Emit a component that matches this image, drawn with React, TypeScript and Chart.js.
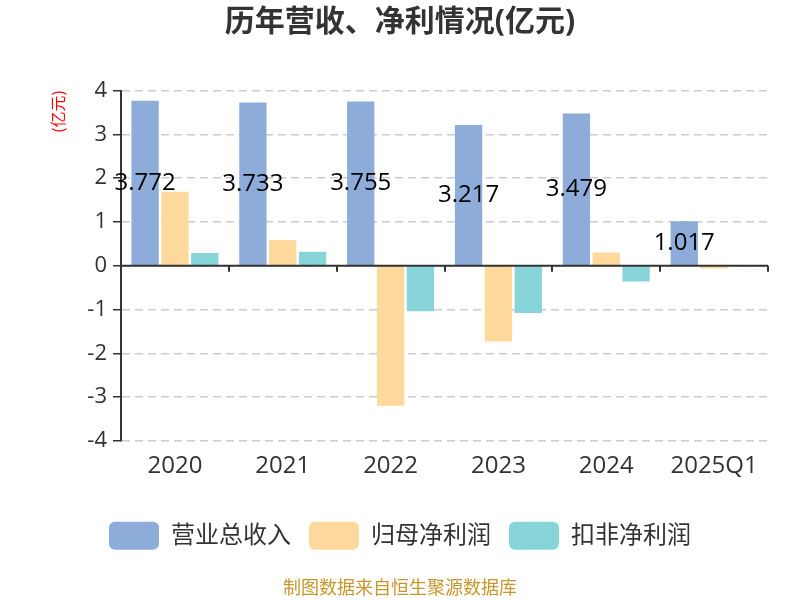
import React, { useEffect, useRef } from "react";
import { Chart, registerables } from "chart.js";

Chart.register(...registerables);

const categories = ["2020", "2021", "2022", "2023", "2024", "2025Q1"];
const revenue = [3.772, 3.733, 3.755, 3.217, 3.479, 1.017];
const netProfit = [1.69, 0.59, -3.2, -1.73, 0.3, -0.06];
const deductedProfit = [0.29, 0.32, -1.04, -1.08, -0.36, -0.01];
const seriesNames = ["营业总收入", "归母净利润", "扣非净利润"];
const yTicks = [-4, -3, -2, -1, 0, 1, 2, 3, 4];

const FONT = "'Open Sans','Noto Sans CJK SC',sans-serif";
const COLORS = ["#8eacd9", "#fed99b", "#87d5d8"];

const zeroAxisPlugin = {
  id: "zeroAxis",
  afterDatasetsDraw(chart: any) {
    const { ctx } = chart;
    const x = chart.scales.x;
    const y = chart.scales.y;
    const y0 = y.getPixelForValue(0);
    ctx.save();
    ctx.strokeStyle = "#333";
    ctx.lineWidth = 2;
    ctx.beginPath();
    ctx.moveTo(x.left, y0);
    ctx.lineTo(x.right, y0);
    const n = categories.length;
    for (let i = 0; i <= n; i++) {
      const px = Math.round(x.left + (i * (x.right - x.left)) / n);
      ctx.moveTo(px, y0);
      ctx.lineTo(px, y0 + 6);
    }
    ctx.stroke();
    ctx.restore();
  },
};

const labelPlugin = {
  id: "barLabels",
  afterDatasetsDraw(chart: any) {
    const { ctx } = chart;
    const meta = chart.getDatasetMeta(0);
    ctx.save();
    ctx.font = `24px ${FONT}`;
    ctx.fillStyle = "#000";
    ctx.textAlign = "center";
    ctx.textBaseline = "middle";
    meta.data.forEach((bar: any, i: number) => {
      const p = bar.getProps(["x", "y", "base"], true);
      ctx.fillText(revenue[i].toFixed(3), p.x, (p.y + p.base) / 2);
    });
    ctx.restore();
  },
};

export default function App() {
  const ref = useRef<HTMLCanvasElement>(null);
  useEffect(() => {
    if (!ref.current) return;
    const chart = new Chart(ref.current, {
      type: "bar",
      data: {
        labels: categories,
        datasets: [
          { label: seriesNames[0], data: revenue, backgroundColor: COLORS[0] },
          { label: seriesNames[1], data: netProfit, backgroundColor: COLORS[1] },
          { label: seriesNames[2], data: deductedProfit, backgroundColor: COLORS[2] },
        ].map((d) => ({ ...d, categoryPercentage: 0.83, barPercentage: 0.915, borderWidth: 0 })),
      },
      options: {
        animation: false,
        responsive: true,
        maintainAspectRatio: false,
        layout: { padding: 0 },
        scales: {
          x: {
            grid: { display: false, drawTicks: false },
            border: { display: false },
            ticks: { color: "#333", font: { size: 24, family: FONT }, padding: 11 },
            afterFit: (s: any) => {
              s.height = 63;
            },
          },
          y: {
            min: -4,
            max: 4,
            afterBuildTicks: (s: any) => {
              s.ticks = yTicks.map((v) => ({ value: v }));
            },
            ticks: { color: "#333", font: { size: 22, family: FONT }, padding: 6 },
            grid: {
              color: "#cccccc",
              lineWidth: 1.5,
              tickColor: "#333",
              tickLength: 8,
              tickWidth: 1.5,
            },
            border: { display: true, color: "#333", width: 2, dash: [8, 5] },
            title: {
              display: true,
              text: "(亿元)",
              color: "#ff0000",
              align: "end",
              font: { size: 16, family: FONT },
              padding: { top: 50, bottom: 0 },
            },
            afterFit: (s: any) => {
              s.width = 121;
            },
          },
          yR: {
            position: "right",
            display: true,
            grid: { display: false, drawTicks: false },
            border: { display: false },
            ticks: { display: false },
            afterFit: (s: any) => {
              s.width = 32;
            },
          },
        },
        plugins: {
          title: {
            display: true,
            text: "历年营收、净利情况(亿元)",
            color: "#333",
            font: { size: 30, weight: "bold", family: FONT },
            padding: { top: 4.5, bottom: 50.2 },
          },
          subtitle: {
            display: true,
            position: "bottom",
            text: "制图数据来自恒生聚源数据库",
            color: "#c9962b",
            font: { size: 18, family: FONT },
            padding: { top: 18.6, bottom: 0 },
          },
          legend: {
            position: "bottom",
            labels: {
              boxWidth: 50,
              boxHeight: 28,
              useBorderRadius: true,
              borderRadius: 6,
              padding: 18,
              color: "#333",
              font: { size: 24, family: FONT },
            },
          },
          tooltip: { enabled: false },
        },
      } as any,
      plugins: [zeroAxisPlugin, labelPlugin],
    });
    return () => chart.destroy();
  }, []);
  return (
    <div style={{ position: "absolute", left: 0, top: 0, width: 800, height: 600 }}>
      <canvas ref={ref} />
    </div>
  );
}
